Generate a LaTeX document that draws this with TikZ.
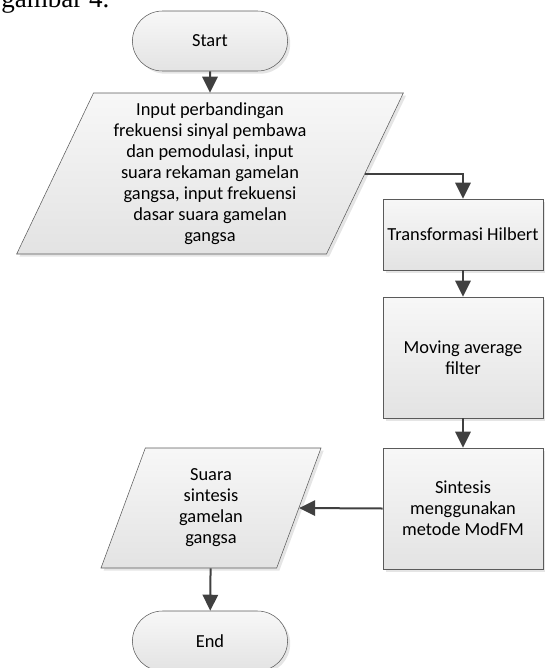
\documentclass[tikz,border=0pt]{standalone}
\usepackage{fontspec}
\setmainfont{Carlito}
\newfontfamily\capfont{Liberation Serif}
\usepackage{xcolor}
\usepackage{tikz}
\usetikzlibrary{shapes.geometric, shapes.misc, arrows.meta, shadows, positioning}
\definecolor{linegray}{HTML}{5A5A5A}
\definecolor{arrowgray}{HTML}{404040}
\tikzstyle{terminal} = [rounded rectangle, minimum width = 123pt, minimum height = 45pt, text centered, draw = linegray, top color = white!97!black, bottom color = white!89!black, drop shadow = {shadow xshift = 2pt, shadow yshift = -2pt, fill = black!20}]
\tikzstyle{proses} = [rectangle, minimum width = 120pt, text centered, align = center, draw = linegray, top color = white!97!black, bottom color = white!89!black, drop shadow = {shadow xshift = 2pt, shadow yshift = -2pt, fill = black!20}]
\tikzstyle{io} = [trapezium, trapezium left angle = 63, trapezium right angle = 117, trapezium stretches body, text centered, align = center, draw = linegray, top color = white!97!black, bottom color = white!89!black, drop shadow = {shadow xshift = 2pt, shadow yshift = -2pt, fill = black!20}]
\tikzstyle{alir} = [draw = arrowgray, line width = 1.5pt, -{Triangle[length = 12pt, width = 11.5pt]}]

\begin{document}
\begin{tikzpicture}[x = 0.75pt, y = -0.75pt, font = \fontsize{13.8}{15.75}\selectfont]
\useasboundingbox (0,0) rectangle (545,668);

\node (cap) [anchor = base west, inner sep = 0pt, font = \capfont\fontsize{20.3}{24}\selectfont] at (1,7) {gambar 4.};

\node (start) [terminal] at (210,41) {Start};

\node (in) [io, minimum width = 290pt, minimum height = 120.75pt] at (210,173.5) {Input perbandingan\\frekuensi sinyal pembawa\\dan pemodulasi, input\\suara rekaman gamelan\\gangsa, input frekuensi\\dasar suara gamelan\\gangsa};

\node (hilbert) [proses, minimum height = 53.25pt] at (463,234.5) {Transformasi Hilbert};

\node (maf) [proses, minimum height = 90.75pt] at (463,357.5) {Moving average\\filter};

\node (modfm) [proses, minimum height = 90.75pt] at (463,508.5) {Sintesis\\menggunakan\\metode ModFM};

\node (out) [io, minimum width = 165pt, minimum height = 90pt] at (211,508) {Suara\\sintesis\\gamelan\\gangsa};

\node (end) [terminal] at (210,641) {End};

\draw[alir] (start) -- (in);
\draw[alir] (in.right side) -| (hilbert.north);
\draw[alir] (hilbert) -- (maf);
\draw[alir] (maf) -- (modfm);
\draw[alir] (modfm.west) -- (out.right side);
\draw[alir] (out) -- (end);
\end{tikzpicture}
\end{document}
